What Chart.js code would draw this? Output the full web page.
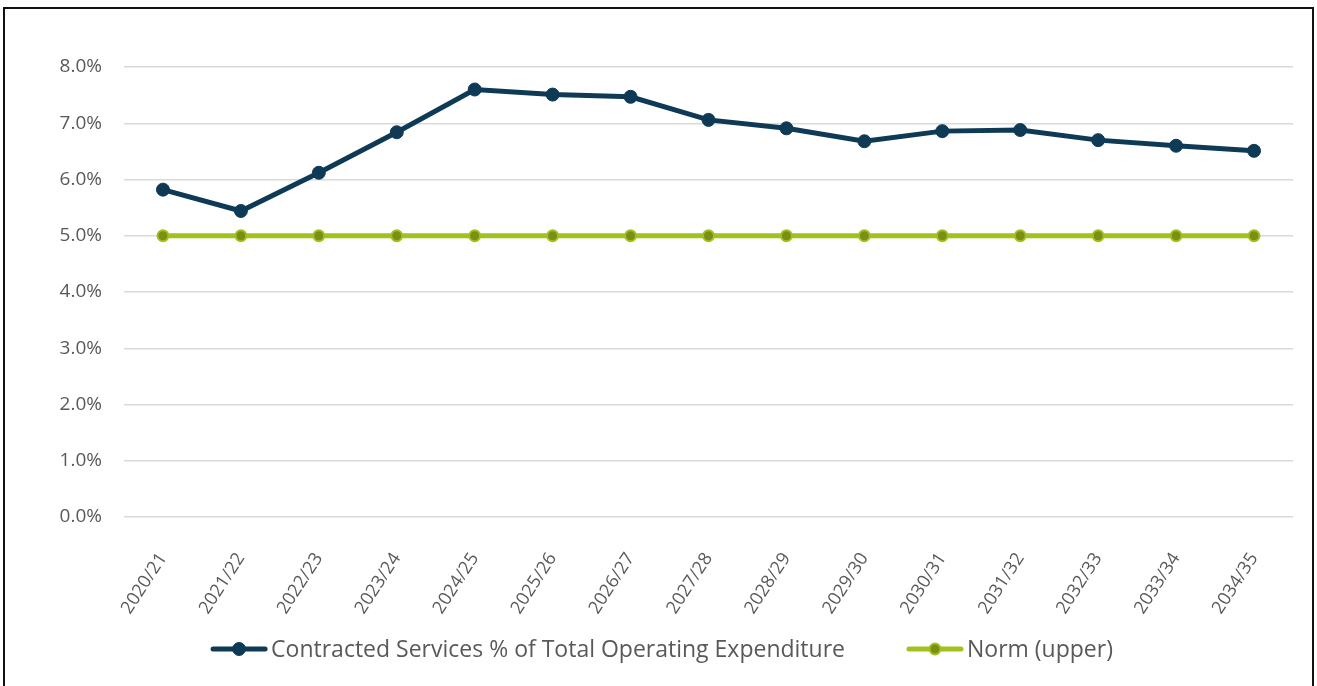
<!DOCTYPE html>
<html>
<head>
<meta charset="utf-8">
<script src="https://cdn.jsdelivr.net/npm/chart.js@4.4.1/dist/chart.umd.min.js"></script>
<style>
  html, body { margin: 0; padding: 0; background: #fff; overflow: hidden; }
  #wrap { position: relative; width: 1317px; height: 686px; }
  #frame { position: absolute; left: 3px; top: 7px; width: 1307px; height: 700px; border: 2px solid #111; }
  canvas { position: absolute; left: 0; top: 0; }
</style>
</head>
<body>
<div id="wrap">
  <div id="frame"></div>
  <canvas id="chart-contracted" width="1317" height="686"></canvas>
</div>
<script>
// years on the x axis
var years = ["2020/21", "2021/22", "2022/23", "2023/24", "2024/25", "2025/26", "2026/27", "2027/28",
             "2028/29", "2029/30", "2030/31", "2031/32", "2032/33", "2033/34", "2034/35"];
// contracted services as % of total operating expenditure
var contracted = [5.82, 5.44, 6.12, 6.84, 7.60, 7.51, 7.47, 7.06, 6.91, 6.68, 6.86, 6.88, 6.70, 6.60, 6.51];
// upper norm
var normUpper = [5, 5, 5, 5, 5, 5, 5, 5, 5, 5, 5, 5, 5, 5, 5];

var navy = '#0f3a56';
var lime = '#a2c11c';
var olive = '#7a8f14';
var grey = '#595959';
var fontFamily = "'Open Sans', sans-serif";

// legend drawn by hand: line with a dot, then the label
var lineLegend = {
    id: 'lineLegend',
    afterDraw: function (chart) {
        var ctx = chart.ctx;
        var sets = chart.data.datasets;
        var lineW = 56, gapText = 4, gapItem = 62, cy = 649;
        ctx.save();
        ctx.font = '23px ' + fontFamily;
        var widths = sets.map(function (ds) { return ctx.measureText(ds.label).width; });
        var total = 0;
        widths.forEach(function (w, i) { total += lineW + gapText + w + (i ? gapItem : 0); });
        var x = 662 - total / 2;
        sets.forEach(function (ds, i) {
            ctx.strokeStyle = ds.borderColor;
            ctx.lineWidth = 5;
            ctx.lineCap = 'round';
            ctx.beginPath();
            ctx.moveTo(x + 2, cy);
            ctx.lineTo(x + lineW - 2, cy);
            ctx.stroke();
            ctx.beginPath();
            ctx.arc(x + lineW / 2, cy, ds.pointRadius, 0, Math.PI * 2);
            ctx.fillStyle = ds.pointBackgroundColor;
            ctx.fill();
            ctx.lineWidth = ds.pointBorderWidth;
            ctx.strokeStyle = ds.pointBorderColor;
            ctx.stroke();
            ctx.fillStyle = grey;
            ctx.textBaseline = 'middle';
            ctx.fillText(ds.label, x + lineW + gapText, cy + 1);
            x += lineW + gapText + widths[i] + gapItem;
        });
        ctx.restore();
    }
};

var ctxC = document.getElementById('chart-contracted').getContext('2d');
var contractedChart = new Chart(ctxC, {
    type: 'line',
    data: {
        labels: years,
        datasets: [{
            label: 'Contracted Services % of Total Operating Expenditure',
            data: contracted,
            borderColor: navy,
            backgroundColor: navy,
            borderWidth: 5,
            pointRadius: 6.5,
            pointBackgroundColor: navy,
            pointBorderColor: navy,
            pointBorderWidth: 1,
            tension: 0
        }, {
            label: 'Norm (upper)',
            data: normUpper,
            borderColor: lime,
            backgroundColor: lime,
            borderWidth: 5,
            pointRadius: 5.5,
            pointBackgroundColor: olive,
            pointBorderColor: lime,
            pointBorderWidth: 2,
            tension: 0
        }]
    },
    options: {
        responsive: false,
        animation: false,
        layout: { padding: { left: 0, right: 24, top: 67, bottom: 0 } },
        plugins: {
            legend: { display: false },
            tooltip: { enabled: false }
        },
        scales: {
            x: {
                offset: true,
                grid: { display: false },
                border: { display: false },
                ticks: {
                    color: grey,
                    font: { family: fontFamily, size: 18 },
                    minRotation: 57,
                    maxRotation: 57,
                    padding: 24,
                    autoSkip: false
                },
                afterFit: function (scale) { scale.height = 169; }
            },
            y: {
                min: 0,
                max: 8,
                grid: { color: '#d9d9d9', lineWidth: 1.5, drawTicks: false },
                border: { display: false },
                ticks: {
                    stepSize: 1,
                    color: grey,
                    padding: 22,
                    font: { family: fontFamily, size: 19 },
                    callback: function (v) { return v.toFixed(1) + '%'; }
                },
                afterFit: function (scale) { scale.width = 124; }
            }
        }
    },
    plugins: [lineLegend]
});
</script>
</body>
</html>
